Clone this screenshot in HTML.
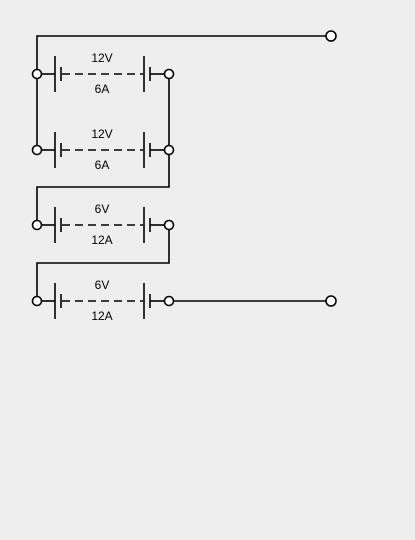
<!DOCTYPE html>
<html><head><meta charset="utf-8"><style>
html,body{margin:0;padding:0;background:#eeeeee;width:415px;height:540px;overflow:hidden}
svg{display:block}
text{font-family:"Liberation Sans",sans-serif;font-size:12px;fill:#000}
</style></head><body>
<svg id="c" width="415" height="540" viewBox="0 0 415 540">
<g stroke="#000" stroke-width="1.6" fill="none">
<path d="M37 74 L37 36 L327 36"/>
<path d="M37 74 L37 146"/>
<path d="M169 78 L169 187 L37 187 L37 221"/>
<path d="M169 229 L169 263 L37 263 L37 297"/>
<path d="M173 301 L327 301"/>
</g>
<circle cx="331" cy="36" r="5" fill="#fff" stroke="#000" stroke-width="1.6"/>
<circle cx="331" cy="301" r="5" fill="#fff" stroke="#000" stroke-width="1.6"/>
<g id="rows"></g>
</svg>
<script>
const rowY=[74,150,225,301];
const voltages=["12V","12V","6V","6V"];
const currents=["6A","6A","12A","12A"];
const ns="http://www.w3.org/2000/svg";
const g=document.getElementById('rows');
function mk(t,a){const e=document.createElementNS(ns,t);for(const k in a)e.setAttribute(k,a[k]);return e;}
rowY.forEach((y,i)=>{
  const b=mk('g',{});
  
  
  const st={stroke:'#000','stroke-width':1.6,fill:'none'};
  b.appendChild(mk('line',Object.assign({x1:41,y1:y,x2:55,y2:y},st)));
  b.appendChild(mk('line',Object.assign({x1:55,y1:y-18,x2:55,y2:y+18},st)));
  b.appendChild(mk('line',Object.assign({x1:61,y1:y-7,x2:61,y2:y+7},st)));
  b.appendChild(mk('line',Object.assign({x1:62,y1:y,x2:143,y2:y,'stroke-dasharray':'8 5'},st)));
  b.appendChild(mk('line',Object.assign({x1:144,y1:y-18,x2:144,y2:y+18},st)));
  b.appendChild(mk('line',Object.assign({x1:150,y1:y-7,x2:150,y2:y+7},st)));
  b.appendChild(mk('line',Object.assign({x1:150,y1:y,x2:164,y2:y},st)));
  const c1=mk('circle',{cx:37,cy:y,r:4.5,fill:'#fff',stroke:'#000','stroke-width':1.6});
  
  
  const c2=mk('circle',{cx:169,cy:y,r:4.5,fill:'#fff',stroke:'#000','stroke-width':1.6});
  
  
  b.appendChild(c1);b.appendChild(c2);
  const t1=mk('text',{x:102,y:y-12,'text-anchor':'middle'});t1.textContent=voltages[i];
  
  
  const t2=mk('text',{x:102,y:y+19,'text-anchor':'middle'});t2.textContent=currents[i];
  
  
  b.appendChild(t1);b.appendChild(t2);
  g.appendChild(b);
});
</script>
</body></html>
